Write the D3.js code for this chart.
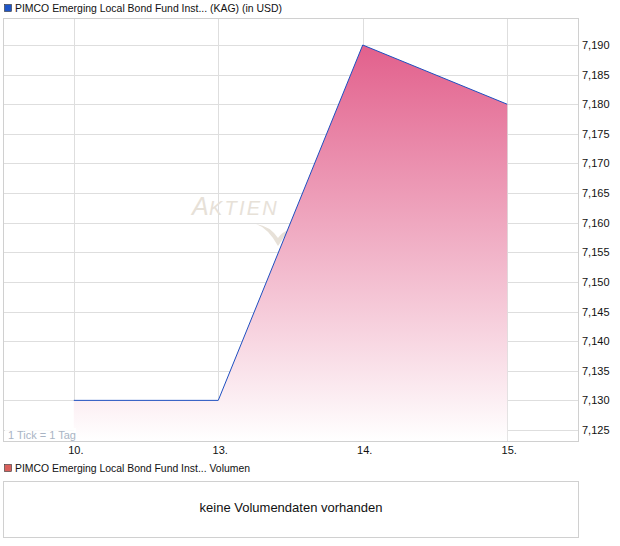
<!DOCTYPE html>
<html><head><meta charset="utf-8">
<script src="https://cdn.jsdelivr.net/npm/d3@7"></script>
<style>body{margin:0;background:#fff}svg{display:block;font-family:"Liberation Sans",Arial,sans-serif}</style>
</head><body>
<svg id="c" width="620" height="546"></svg>
<script>
const dayLabels = ["10.", "13.", "14.", "15."];
const prices = [7.130, 7.130, 7.190, 7.180];
const yTicks = [7.125, 7.130, 7.135, 7.140, 7.145, 7.150, 7.155, 7.160, 7.165, 7.170, 7.175, 7.180, 7.185, 7.190];
const seriesTitle = "PIMCO Emerging Local Bond Fund Inst... (KAG) (in USD)";
const volumeTitle = "PIMCO Emerging Local Bond Fund Inst... Volumen";
const volumeMsg = "keine Volumendaten vorhanden";
const tickNote = "1 Tick = 1 Tag";

const svg = d3.select("#c");
const L = 3, R = 578, T = 18, B = 441;
const x = d3.scaleLinear().domain([-0.49, 3.49]).range([L, R]);
const y = d3.scaleLinear().domain([7.12314, 7.19456]).range([B, T]);

// legend
svg.append("rect").attr("x", 4.5).attr("y", 4.5).attr("width", 7).attr("height", 7).attr("fill", "#1e55c8").attr("stroke", "#333").attr("stroke-width", 0.6);
svg.append("text").attr("x", 15).attr("y", 12).attr("font-size", 11).attr("fill", "#111")
  .attr("textLength", 267).attr("lengthAdjust", "spacingAndGlyphs").text(seriesTitle);

// grid
const g = svg.append("g");
g.selectAll(".hy").data(yTicks).join("line")
  .attr("x1", L).attr("x2", R).attr("y1", d => Math.round(y(d)) + 0.5).attr("y2", d => Math.round(y(d)) + 0.5)
  .attr("stroke", "#dedede");
g.selectAll(".vx").data(dayLabels).join("line")
  .attr("x1", (d, i) => Math.round(x(i)) + 0.5).attr("x2", (d, i) => Math.round(x(i)) + 0.5).attr("y1", T).attr("y2", B)
  .attr("stroke", "#dedede");

// watermark
const wm = svg.append("g").attr("fill", "#e7e1d8");
wm.append("text").attr("x", 192).attr("y", 215).attr("font-size", 25).attr("font-style", "italic").text("A");
wm.append("text").attr("x", 209).attr("y", 215).attr("font-size", 20).attr("font-style", "italic").attr("letter-spacing", 2.2).text("KTIEN");
wm.append("path").attr("d", "M256,224 Q268,228 278,246 Q284,236 292,228 Q282,232 278,238 Q270,226 256,224 Z");

// gradient
const defs = svg.append("defs");
const grad = defs.append("linearGradient").attr("id", "gr")
  .attr("gradientUnits", "userSpaceOnUse").attr("x1", 0).attr("y1", y(7.19)).attr("x2", 0).attr("y2", B);
grad.append("stop").attr("offset", 0).attr("stop-color", "#e2608c");
grad.append("stop").attr("offset", 1).attr("stop-color", "#ffffff");

const area = d3.area().x((d, i) => x(i)).y0(B).y1(d => y(d));
svg.append("path").datum(prices).attr("d", area).attr("fill", "url(#gr)");
const line = d3.line().x((d, i) => x(i)).y(d => y(d));
svg.append("path").datum(prices).attr("d", line).attr("fill", "none").attr("stroke", "#1e4fc0").attr("stroke-width", 1);

// frame
svg.append("rect").attr("x", L + 0.5).attr("y", T + 0.5).attr("width", R - L).attr("height", B - T).attr("fill", "none").attr("stroke", "#d0d0d0");

// tick note
svg.append("rect").attr("x", 5).attr("y", 428).attr("width", 71).attr("height", 12).attr("fill", "#fff").attr("opacity", 0.85);
svg.append("text").attr("x", 8).attr("y", 439).attr("font-size", 11).attr("fill", "#a9b4c4").text(tickNote);

// axes labels
svg.selectAll(".yl").data(yTicks).join("text")
  .attr("x", 582).attr("y", d => y(d) + 4).attr("font-size", 11).attr("fill", "#111")
  .text(d => d3.format(".3f")(d).replace(".", ","));
svg.selectAll(".xl").data(dayLabels).join("text")
  .attr("x", (d, i) => x(i) + 2).attr("y", 454).attr("text-anchor", "middle").attr("font-size", 11).attr("fill", "#111")
  .text(d => d);

// volume panel
svg.append("rect").attr("x", 4.5).attr("y", 464.5).attr("width", 7).attr("height", 7).attr("fill", "#d9605c").attr("stroke", "#333").attr("stroke-width", 0.6);
svg.append("text").attr("x", 15).attr("y", 472).attr("font-size", 11).attr("fill", "#111")
  .attr("textLength", 235).attr("lengthAdjust", "spacingAndGlyphs").text(volumeTitle);
svg.append("rect").attr("x", 3.5).attr("y", 481.5).attr("width", 575).attr("height", 56).attr("fill", "none").attr("stroke", "#d0d0d0");
svg.append("text").attr("x", 291).attr("y", 512).attr("text-anchor", "middle").attr("font-size", 13).attr("fill", "#111").text(volumeMsg);
</script>
</body></html>
